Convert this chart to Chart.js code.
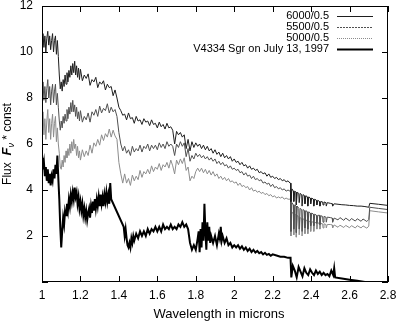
<!DOCTYPE html>
<html>
<head>
<meta charset="utf-8">
<script src="https://cdn.jsdelivr.net/npm/chart.js@4.4.0/dist/chart.umd.min.js"></script>
<style>
  html,body{margin:0;padding:0;background:#fff;}
  #wrap{position:relative;width:397px;height:323px;}
</style>
</head>
<body>
<div id="wrap"><canvas id="chart"></canvas></div>
<script>
// ========== DATA ==========
const X_TICKS = [1, 1.2, 1.4, 1.6, 1.8, 2, 2.2, 2.4, 2.6, 2.8];
const Y_TICKS = [0, 2, 4, 6, 8, 10, 12];
const NAMES = ['6000/0.5', '5500/0.5', '5000/0.5', 'V4334 Sgr on July 13, 1997'];

// [wavelength (microns), flux]
const model6000 = [
  [1.000,10.3],[1.005,10.8],[1.010,10.2],[1.015,10.7],[1.020,10.0],[1.025,10.6],[1.030,10.9],[1.035,10.3],
  [1.040,10.7],[1.045,10.1],[1.050,10.5],[1.055,10.8],[1.060,10.0],[1.065,10.5],[1.070,10.7],[1.075,9.9],
  [1.080,10.5],[1.085,9.8],[1.090,9.0],[1.095,8.4],[1.100,8.7],[1.105,8.3],[1.110,8.8],[1.115,8.5],
  [1.120,9.0],[1.125,8.6],[1.130,9.1],[1.135,8.7],[1.140,9.2],[1.145,8.9],[1.150,9.4],[1.155,9.0],
  [1.160,9.5],[1.165,9.1],[1.170,9.6],[1.175,9.0],[1.180,9.4],[1.185,8.9],[1.190,9.3],[1.195,8.8],
  [1.20,9.25],[1.21,8.75],[1.22,9.0],[1.23,8.85],[1.24,9.05],[1.25,8.55],[1.26,8.8],[1.27,8.7],
  [1.28,8.9],[1.29,8.45],[1.30,8.7],[1.31,8.6],[1.32,8.75],[1.33,8.35],[1.34,8.6],[1.35,8.45],
  [1.36,8.5],[1.37,8.1],[1.38,8.35],[1.39,8.0],[1.40,7.6],[1.41,7.45],[1.42,7.25],[1.43,7.3],
  [1.44,7.05],[1.45,7.35],[1.46,7.1],[1.47,7.15],[1.48,6.9],[1.49,7.2],[1.50,7.0],[1.51,7.05],
  [1.52,6.85],[1.53,7.1],[1.54,6.95],[1.55,7.0],[1.56,6.8],[1.57,7.05],[1.58,6.85],[1.59,6.9],
  [1.60,6.7],[1.61,6.95],[1.62,6.75],[1.63,6.85],[1.64,6.65],[1.65,6.9],[1.66,6.7],[1.67,6.75],
  [1.68,6.6],[1.69,6.0],[1.70,6.55],[1.71,6.4],[1.72,6.5],[1.73,6.3],[1.74,6.4],[1.75,5.8],
  [1.76,6.2],[1.77,5.7],[1.78,6.1],[1.79,5.85],[1.80,6.05],[1.81,5.9],[1.82,6.0],[1.83,5.8],
  [1.84,5.95],[1.85,5.75],[1.86,5.9],[1.87,5.7],[1.88,5.8],[1.89,5.6],[1.90,5.75],[1.91,5.55],
  [1.92,5.65],[1.93,5.45],[1.94,5.6],[1.95,5.4],[1.96,5.5],[1.97,5.35],[1.98,5.45],[1.99,5.25],
  [2.00,5.35],[2.01,5.2],[2.02,5.25],[2.03,5.1],[2.04,5.2],[2.05,5.05],[2.06,5.1],[2.07,4.95],
  [2.08,5.05],[2.09,4.9],[2.10,4.95],[2.11,4.85],[2.12,4.9],[2.13,4.75],[2.14,4.8],[2.15,4.7],
  [2.16,4.75],[2.17,4.6],[2.18,4.7],[2.19,4.55],[2.20,4.6],[2.21,4.5],[2.22,4.55],[2.23,4.45],
  [2.24,4.5],[2.25,4.4],[2.26,4.45],[2.27,4.35],[2.28,4.4],[2.290,4.3],[2.293,4.3],[2.295,3.5],
  [2.300,4.05],[2.308,3.95],[2.310,3.5],[2.315,3.95],[2.322,3.9],[2.323,3.35],[2.328,3.9],[2.336,3.85],
  [2.338,3.45],[2.343,3.85],[2.351,3.8],[2.353,3.3],[2.358,3.8],[2.366,3.75],[2.368,3.4],[2.373,3.75],
  [2.381,3.7],[2.383,3.3],[2.388,3.7],[2.396,3.65],[2.398,3.4],[2.403,3.65],[2.412,3.6],[2.414,3.3],
  [2.419,3.6],[2.428,3.55],[2.430,3.35],[2.435,3.55],[2.444,3.5],[2.446,3.3],[2.451,3.5],[2.460,3.48],
  [2.462,3.35],[2.467,3.48],[2.477,3.45],[2.479,3.3],[2.484,3.45],[2.500,3.42],[2.510,3.4],[2.512,3.3],
  [2.520,3.4],[2.540,3.38],[2.560,3.36],[2.580,3.35],[2.600,3.33],[2.620,3.32],[2.640,3.3],[2.660,3.3],
  [2.680,3.28],[2.700,3.25],[2.705,3.42],[2.750,3.38],[2.800,3.33]
];
const model5500 = [
  [1.000,8.2],[1.005,8.7],[1.010,7.9],[1.015,8.5],[1.020,7.8],[1.025,8.4],[1.030,8.8],[1.035,8.0],
  [1.040,8.5],[1.045,7.7],[1.050,8.3],[1.055,8.6],[1.060,7.8],[1.065,8.3],[1.070,8.6],[1.075,7.7],
  [1.080,8.2],[1.085,7.6],[1.090,7.0],[1.095,6.6],[1.100,7.0],[1.105,6.7],[1.110,7.2],[1.115,6.9],
  [1.120,7.3],[1.125,7.0],[1.130,7.5],[1.135,7.1],[1.140,7.6],[1.145,7.3],[1.150,7.8],[1.155,7.4],
  [1.160,7.9],[1.165,7.4],[1.170,7.7],[1.175,7.2],[1.180,7.6],[1.185,7.1],[1.190,7.4],[1.195,7.0],
  [1.20,7.45],[1.21,6.95],[1.22,7.2],[1.23,7.05],[1.24,7.35],[1.25,6.95],[1.26,7.4],[1.27,7.25],
  [1.28,7.5],[1.29,7.2],[1.30,7.65],[1.31,7.35],[1.32,7.55],[1.33,7.45],[1.34,7.75],[1.35,7.35],
  [1.36,7.6],[1.37,7.4],[1.38,7.5],[1.39,7.2],[1.40,6.5],[1.41,6.0],[1.42,5.7],[1.43,5.9],
  [1.44,5.6],[1.45,5.75],[1.46,5.5],[1.47,5.9],[1.48,5.65],[1.49,5.8],[1.50,5.7],[1.51,5.95],
  [1.52,5.65],[1.53,5.9],[1.54,5.8],[1.55,6.0],[1.56,5.7],[1.57,5.95],[1.58,5.8],[1.59,5.95],
  [1.60,5.75],[1.61,6.05],[1.62,5.85],[1.63,6.0],[1.64,5.8],[1.65,6.1],[1.66,5.9],[1.67,6.0],
  [1.68,5.9],[1.69,5.5],[1.70,6.0],[1.71,5.85],[1.72,6.1],[1.73,5.9],[1.74,6.05],[1.75,5.45],
  [1.76,5.8],[1.77,5.25],[1.78,5.5],[1.79,5.35],[1.80,5.6],[1.81,5.45],[1.82,5.55],[1.83,5.4],
  [1.84,5.5],[1.85,5.35],[1.86,5.45],[1.87,5.3],[1.88,5.4],[1.89,5.25],[1.90,5.35],[1.91,5.15],
  [1.92,5.25],[1.93,5.1],[1.94,5.2],[1.95,5.05],[1.96,5.1],[1.97,4.95],[1.98,5.05],[1.99,4.9],
  [2.00,4.95],[2.01,4.85],[2.02,4.9],[2.03,4.75],[2.04,4.8],[2.05,4.65],[2.06,4.75],[2.07,4.6],
  [2.08,4.65],[2.09,4.5],[2.10,4.6],[2.11,4.45],[2.12,4.5],[2.13,4.4],[2.14,4.45],[2.15,4.3],
  [2.16,4.35],[2.17,4.25],[2.18,4.3],[2.19,4.15],[2.20,4.25],[2.21,4.1],[2.22,4.15],[2.23,4.05],
  [2.24,4.1],[2.25,4.0],[2.26,4.05],[2.27,3.95],[2.28,4.0],[2.290,3.95],[2.293,3.95],[2.295,2.2],
  [2.300,3.45],[2.308,3.35],[2.310,2.3],[2.315,3.35],[2.322,3.3],[2.323,2.15],[2.328,3.3],[2.336,3.2],
  [2.338,2.3],[2.343,3.2],[2.351,3.15],[2.353,2.2],[2.358,3.15],[2.366,3.1],[2.368,2.35],[2.373,3.1],
  [2.381,3.05],[2.383,2.3],[2.388,3.05],[2.396,3.0],[2.398,2.45],[2.403,3.0],[2.412,2.95],[2.414,2.45],
  [2.419,2.95],[2.428,2.9],[2.430,2.55],[2.435,2.9],[2.444,2.9],[2.446,2.5],[2.451,2.88],[2.460,2.85],
  [2.462,2.6],[2.467,2.85],[2.477,2.82],[2.479,2.6],[2.484,2.82],[2.500,2.8],[2.510,2.78],[2.512,2.6],
  [2.520,2.78],[2.540,2.7],[2.550,2.8],[2.570,2.68],[2.580,2.78],[2.600,2.66],[2.610,2.76],[2.630,2.65],
  [2.640,2.75],[2.660,2.64],[2.670,2.74],[2.690,2.63],[2.700,2.72],[2.705,3.25],[2.750,3.2],[2.800,3.15]
];
const model5000 = [
  [1.000,6.6],[1.005,7.4],[1.010,6.4],[1.015,7.1],[1.020,6.2],[1.025,7.0],[1.030,7.5],[1.035,6.5],
  [1.040,7.1],[1.045,6.2],[1.050,6.9],[1.055,7.3],[1.060,6.3],[1.065,6.9],[1.070,7.2],[1.075,6.1],
  [1.080,6.7],[1.085,6.0],[1.090,5.6],[1.095,5.0],[1.100,4.9],[1.105,5.3],[1.110,5.0],[1.115,5.5],
  [1.120,5.2],[1.125,5.7],[1.130,5.4],[1.135,5.8],[1.140,5.5],[1.145,6.0],[1.150,5.6],[1.155,6.1],
  [1.160,5.7],[1.165,6.2],[1.170,5.8],[1.175,6.0],[1.180,5.5],[1.185,5.9],[1.190,5.4],[1.195,5.7],
  [1.20,5.3],[1.21,5.75],[1.22,5.45],[1.23,5.7],[1.24,5.5],[1.25,5.95],[1.26,5.6],[1.27,6.05],
  [1.28,5.9],[1.29,6.2],[1.30,5.95],[1.31,6.4],[1.32,6.15],[1.33,6.45],[1.34,6.3],[1.35,6.65],
  [1.36,6.3],[1.37,6.6],[1.38,6.35],[1.39,6.2],[1.40,5.2],[1.41,4.7],[1.42,4.3],[1.43,4.7],
  [1.44,4.3],[1.45,4.5],[1.46,4.2],[1.47,4.65],[1.48,4.4],[1.49,4.6],[1.50,4.45],[1.51,4.85],
  [1.52,4.55],[1.53,4.8],[1.54,4.7],[1.55,4.9],[1.56,4.7],[1.57,5.05],[1.58,4.8],[1.59,5.0],
  [1.60,4.9],[1.61,5.15],[1.62,4.85],[1.63,5.1],[1.64,5.0],[1.65,5.2],[1.66,4.95],[1.67,5.3],
  [1.68,5.05],[1.69,4.7],[1.70,5.3],[1.71,5.1],[1.72,5.35],[1.73,5.15],[1.74,5.4],[1.75,4.85],
  [1.76,5.0],[1.77,4.4],[1.78,4.6],[1.79,4.5],[1.80,4.8],[1.81,4.95],[1.82,4.8],[1.83,4.95],
  [1.84,4.75],[1.85,4.9],[1.86,4.7],[1.87,4.85],[1.88,4.65],[1.89,4.8],[1.90,4.6],[1.91,4.7],
  [1.92,4.5],[1.93,4.6],[1.94,4.45],[1.95,4.55],[1.96,4.4],[1.97,4.5],[1.98,4.35],[1.99,4.4],
  [2.00,4.3],[2.01,4.35],[2.02,4.2],[2.03,4.3],[2.04,4.15],[2.05,4.2],[2.06,4.1],[2.07,4.15],
  [2.08,4.0],[2.09,4.1],[2.10,3.95],[2.11,4.0],[2.12,3.9],[2.13,3.95],[2.14,3.85],[2.15,3.9],
  [2.16,3.8],[2.17,3.85],[2.18,3.75],[2.19,3.8],[2.20,3.7],[2.21,3.75],[2.22,3.65],[2.23,3.7],
  [2.24,3.65],[2.25,3.7],[2.26,3.6],[2.27,3.65],[2.28,3.6],[2.290,3.6],[2.293,3.6],[2.295,2.0],
  [2.300,3.05],[2.308,2.95],[2.310,2.05],[2.315,2.95],[2.322,2.9],[2.323,1.95],[2.328,2.9],[2.336,2.8],
  [2.338,2.05],[2.343,2.8],[2.351,2.75],[2.353,2.0],[2.358,2.75],[2.366,2.7],[2.368,2.1],[2.373,2.7],
  [2.381,2.65],[2.383,2.1],[2.388,2.65],[2.396,2.62],[2.398,2.2],[2.403,2.62],[2.412,2.6],[2.414,2.2],
  [2.419,2.6],[2.428,2.57],[2.430,2.3],[2.435,2.57],[2.444,2.55],[2.446,2.3],[2.451,2.55],[2.460,2.53],
  [2.462,2.35],[2.467,2.53],[2.477,2.5],[2.479,2.35],[2.484,2.5],[2.500,2.5],[2.510,2.48],[2.512,2.35],
  [2.520,2.48],[2.540,2.38],[2.550,2.47],[2.570,2.37],[2.580,2.46],[2.600,2.36],[2.610,2.45],[2.630,2.35],
  [2.640,2.45],[2.660,2.35],[2.670,2.44],[2.690,2.34],[2.700,2.43],[2.705,3.1],[2.750,3.05],[2.800,3.0]
];
const v4334 = [
  [1.000,5.4],[1.005,4.9],[1.010,5.2],[1.015,4.6],[1.020,5.0],[1.025,4.4],[1.030,4.9],[1.035,4.3],
  [1.040,4.7],[1.045,4.2],[1.050,4.6],[1.055,4.4],[1.060,4.9],[1.065,4.5],[1.070,5.1],[1.075,4.7],
  [1.080,5.5],[1.085,4.5],[1.090,3.6],[1.095,2.4],[1.100,1.5],[1.105,2.2],[1.110,2.8],[1.115,2.5],
  [1.120,3.1],[1.125,2.9],[1.130,3.4],[1.135,3.1],[1.140,3.6],[1.145,3.3],[1.150,3.8],[1.155,3.5],
  [1.160,3.9],[1.165,3.6],[1.170,4.1],[1.175,3.7],[1.180,3.9],[1.185,3.4],[1.190,3.7],[1.195,3.2],
  [1.200,3.5],[1.205,3.1],[1.210,3.4],[1.215,2.9],[1.220,3.2],[1.225,2.8],[1.230,3.1],[1.235,2.7],
  [1.240,3.0],[1.245,3.2],[1.250,2.8],[1.255,3.3],[1.260,3.0],[1.265,3.5],[1.270,3.1],[1.275,3.6],
  [1.280,3.2],[1.285,3.6],[1.290,3.3],[1.295,3.7],[1.300,3.3],[1.305,3.8],[1.310,3.4],[1.315,3.7],
  [1.320,3.3],[1.325,3.8],[1.330,3.5],[1.335,3.9],[1.340,3.5],[1.345,3.8],[1.350,3.4],[1.355,4.3],
  [1.360,3.6],[1.425,2.4],[1.430,2.0],[1.435,2.3],[1.440,1.9],[1.445,1.6],[1.450,1.5],[1.455,1.7],
  [1.460,1.5],[1.465,1.9],[1.470,1.7],[1.475,2.0],[1.480,1.8],[1.490,2.1],[1.500,1.9],[1.510,2.2],
  [1.520,2.0],[1.530,2.2],[1.540,2.0],[1.550,2.3],[1.560,2.1],[1.570,2.3],[1.580,2.2],[1.590,2.4],
  [1.600,2.2],[1.610,2.4],[1.620,2.2],[1.630,2.5],[1.640,2.3],[1.650,2.4],[1.660,2.3],[1.670,2.5],
  [1.680,2.3],[1.690,2.4],[1.700,2.3],[1.710,2.5],[1.720,2.4],[1.730,2.6],[1.740,2.4],[1.750,2.5],
  [1.760,2.3],[1.770,1.7],[1.780,1.4],[1.790,1.6],[1.800,1.4],[1.810,1.9],[1.815,2.2],[1.820,1.3],
  [1.825,2.3],[1.830,1.5],[1.835,2.6],[1.840,1.8],[1.845,3.4],[1.850,2.2],[1.855,1.4],[1.860,2.6],
  [1.865,1.8],[1.870,2.4],[1.875,1.7],[1.880,2.0],[1.890,1.7],[1.900,2.0],[1.910,1.6],[1.920,2.1],
  [1.925,1.9],[1.930,2.4],[1.935,1.8],[1.940,2.0],[1.950,1.7],[1.960,1.9],[1.970,1.6],[1.980,1.7],
  [1.990,1.5],[2.000,1.6],[2.010,1.5],[2.020,1.6],[2.030,1.45],[2.040,1.55],[2.050,1.4],[2.060,1.5],
  [2.070,1.35],[2.080,1.45],[2.090,1.3],[2.100,1.4],[2.110,1.28],[2.120,1.35],[2.130,1.25],[2.140,1.3],
  [2.150,1.2],[2.160,1.27],[2.170,1.18],[2.180,1.22],[2.190,1.14],[2.200,1.2],[2.220,1.15],[2.240,1.1],
  [2.260,1.1],[2.280,1.05],[2.293,1.05],[2.297,0.2],[2.305,0.7],[2.315,0.5],[2.325,0.2],[2.335,0.65],
  [2.345,0.45],[2.355,0.25],[2.365,0.6],[2.375,0.4],[2.385,0.3],[2.395,0.55],[2.405,0.4],[2.415,0.3],
  [2.425,0.5],[2.435,0.35],[2.445,0.45],[2.455,0.3],[2.465,0.4],[2.475,0.3],[2.485,0.35],[2.495,0.25],
  [2.505,0.5],[2.515,0.3],[2.520,0.6],[2.525,0.2],[2.560,0.15],[2.600,0.1],[2.640,0.05],[2.680,0.0]
];

// ========== STYLE ==========
const FONT = '"Liberation Sans", Arial, Helvetica, sans-serif';
const SERIES = [
  {data: model6000, color:'#1e1e1e', width:1, dash:[]},
  {data: model5500, color:'#505050', width:1, dash:[2,1]},
  {data: model5000, color:'#8c8c8c', width:1, dash:[1,1]},
  {data: v4334,     color:'#000',    width:2, dash:[]}
];
const toXY = arr => arr.map(([x, y]) => ({x, y}));

// ========== PLUGIN: gnuplot-like frame, inner ticks, legend, axis titles ==========
const gnuFrame = {
  id: 'gnuFrame',
  afterDraw(chart){
    const {ctx, chartArea: a, scales: {x, y}} = chart;
    ctx.save();
    ctx.strokeStyle = '#000';
    ctx.lineWidth = 1;
    ctx.setLineDash([]);
    ctx.beginPath();
    x.ticks.forEach(t => {
      const px = Math.round(x.getPixelForValue(t.value)) + 0.5;
      ctx.moveTo(px, a.bottom); ctx.lineTo(px, a.bottom - 6);
      ctx.moveTo(px, a.top);    ctx.lineTo(px, a.top + 6);
    });
    y.ticks.forEach(t => {
      const py = Math.round(y.getPixelForValue(t.value)) + 0.5;
      ctx.moveTo(a.left, py);  ctx.lineTo(a.left + 6, py);
      ctx.moveTo(a.right, py); ctx.lineTo(a.right - 6, py);
    });
    ctx.stroke();
    ctx.strokeRect(Math.round(a.left) + 0.5, Math.round(a.top) + 0.5,
                   Math.round(a.width) - 1, Math.round(a.height) - 1);

    // legend (right aligned text, sample line to the right)
    ctx.font = '11px ' + FONT;
    ctx.textAlign = 'right';
    ctx.textBaseline = 'middle';
    chart.data.datasets.forEach((ds, i) => {
      const yy = 16 + i * 11;
      ctx.fillStyle = '#000';
      ctx.fillText(ds.label, 329, yy);
      ctx.strokeStyle = ds.borderColor;
      ctx.lineWidth = ds.borderWidth;
      ctx.setLineDash(SERIES[i].dash);
      ctx.beginPath();
      ctx.moveTo(337, yy + 0.5); ctx.lineTo(373, yy + 0.5);
      ctx.stroke();
    });
    ctx.setLineDash([]);

    // x title
    ctx.fillStyle = '#000';
    ctx.font = '13px ' + FONT;
    ctx.textAlign = 'center';
    ctx.textBaseline = 'alphabetic';
    ctx.fillText('Wavelength in microns', (a.left + a.right) / 2 + 4, 318);

    // y title: Flux  F_nu * const (rotated)
    const parts = [
      {t: 'Flux  ', f: '12px ' + FONT, dy: 0},
      {t: 'F', f: 'italic bold 13px ' + FONT, dy: 0},
      {t: 'ν', f: 'italic 9px ' + FONT, dy: 3},
      {t: ' * const', f: '12px ' + FONT, dy: 0}
    ];
    let total = 0;
    parts.forEach(p => { ctx.font = p.f; p.w = ctx.measureText(p.t).width; total += p.w; });
    ctx.translate(11, 144);
    ctx.rotate(-Math.PI / 2);
    ctx.textAlign = 'left';
    let cx = -total / 2;
    parts.forEach(p => { ctx.font = p.f; ctx.fillText(p.t, cx, p.dy); cx += p.w; });
    ctx.restore();
  }
};

// ========== CHART ==========
new Chart(document.getElementById('chart'), {
  type: 'line',
  data: {
    datasets: SERIES.map((s, i) => ({
      label: NAMES[i],
      data: toXY(s.data),
      borderColor: s.color,
      borderWidth: s.width,
      pointRadius: 0,
      tension: 0,
      fill: false
    }))
  },
  options: {
    responsive: true,
    maintainAspectRatio: false,
    animation: false,
    layout: {padding: {top: 6, right: 9, left: 0, bottom: 0}},
    plugins: {legend: {display: false}, tooltip: {enabled: false}},
    scales: {
      x: {
        type: 'linear', min: 1, max: 2.8,
        afterBuildTicks: s => { s.ticks = X_TICKS.map(v => ({value: v})); },
        afterFit: s => { s.height = 41; s.paddingLeft = 0; s.paddingRight = 9; },
        grid: {display: false, drawTicks: false},
        border: {display: false},
        ticks: {color: '#000', font: {family: FONT, size: 12}, padding: 6, maxRotation: 0,
                callback: v => String(+v.toFixed(1))}
      },
      y: {
        type: 'linear', min: 0, max: 12,
        afterBuildTicks: s => { s.ticks = Y_TICKS.map(v => ({value: v})); },
        afterFit: s => { s.width = 42; s.paddingTop = 6; s.paddingBottom = 0; },
        grid: {display: false, drawTicks: false},
        border: {display: false},
        ticks: {color: '#000', font: {family: FONT, size: 12}, padding: 9,
                callback: v => v === 0 ? '' : String(v)}
      }
    }
  },
  plugins: [gnuFrame]
});
</script>
</body>
</html>
